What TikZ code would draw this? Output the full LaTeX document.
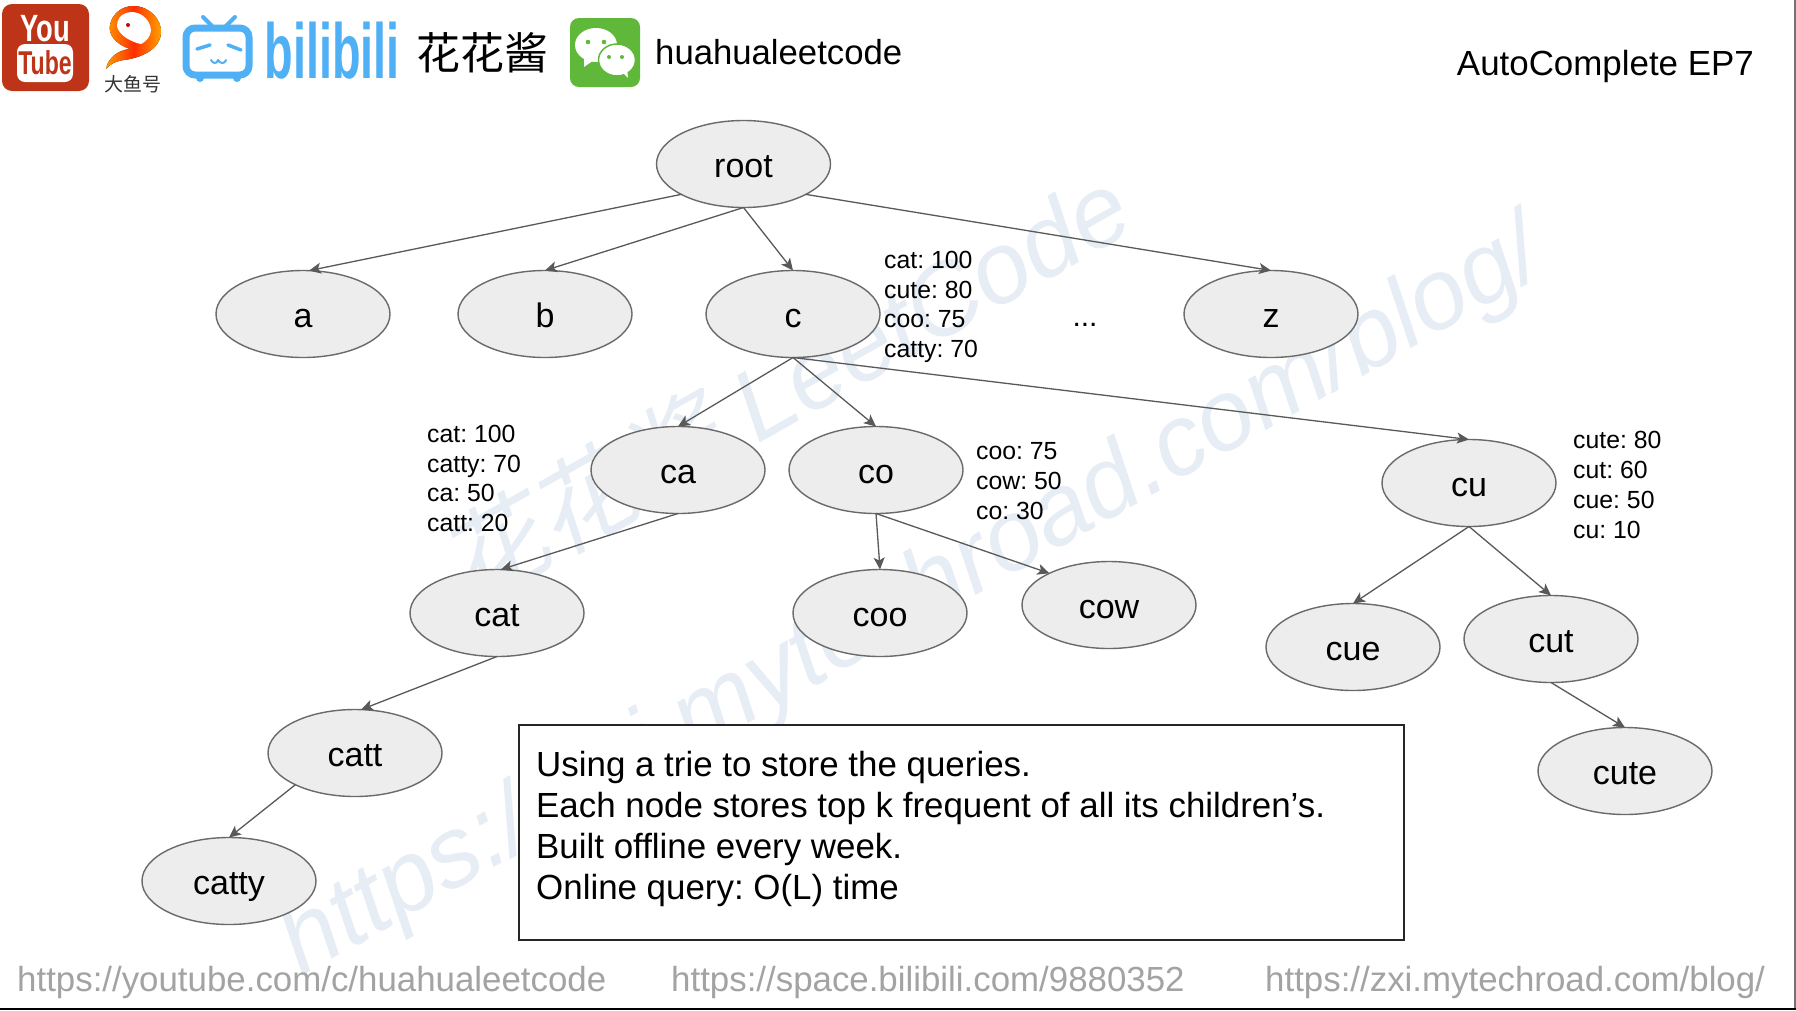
\documentclass[tikz,border=0pt]{standalone}
\usepackage{fontspec}
\usetikzlibrary{shapes.geometric,arrows.meta}
\setmainfont{Liberation Sans}
\frenchspacing
\newfontfamily\cjkfont{Noto Sans CJK SC}
\newfontfamily\cjkslant[FakeSlant=0.2]{Noto Sans CJK SC}
\definecolor{wm}{HTML}{E7EDF5}
\definecolor{edgec}{HTML}{595959}
\definecolor{foot}{HTML}{A3A3A3}
\definecolor{bili}{HTML}{4FB0F5}
\definecolor{wx}{HTML}{5FB83A}
\definecolor{yt}{HTML}{BD3418}
\tikzset{
 trie/.style={ellipse,draw=edgec!90,line width=1.4pt,fill=black!7,minimum width=174pt,minimum height=87pt,inner sep=0pt,outer sep=0pt,text height=27pt,text depth=0pt,font=\fontsize{34}{40}\selectfont},
 link/.style={draw=edgec,line width=1.3pt,-{Stealth[length=12pt,width=11pt,inset=3pt]}},
 toplabel/.style={anchor=west,align=left,inner sep=0pt,font=\fontsize{24.8}{29.8}\selectfont},
 footer/.style={anchor=base west,inner sep=0pt,text=foot,font=\fontsize{34.85}{40}\selectfont},
 wmark/.style={inner sep=0pt,text=wm,rotate=29.5},
 biliStroke/.style={draw=bili,line cap=round,line join=round}
}
\begin{document}
\begin{tikzpicture}[x=1pt,y=-1pt]
\useasboundingbox (0,0) rectangle (1796,1010);
\fill[white] (0,0) rectangle (1796,1010);
% watermark
\node[wmark] (wmone) at (785,385) {\fontsize{101}{110}\selectfont{\cjkslant 花花酱} \itshape LeetCode};
\node[wmark] (wmtwo) at (913,601) {\fontsize{100}{110}\selectfont\itshape https://zxi.mytechroad.com/blog/};
% page edges
\draw[black!55,line width=1.5pt] (1795,0) -- (1795,1010);
\draw[black,line width=2pt] (0,1009) -- (1796,1009);
% youtube
\fill[yt,rounded corners=10pt] (2,4) rectangle (89,91);
\node[inner sep=0pt,text=white] (ytyou) at (45,29) {\fontsize{38}{40}\selectfont\bfseries\scalebox{.72}[1]{You}};
\fill[white,rounded corners=8pt] (17,44) rectangle (73,82);
\node[inner sep=0pt,text=yt] (yttube) at (45,63) {\fontsize{33}{40}\selectfont\bfseries\scalebox{.7}[1]{Tube}};
% dayuhao
\fill[left color=orange!80!yellow,right color=orange!70!yellow,middle color=red!65!orange] (133,6) .. controls (150,6) and (162,20) .. (161,33) .. controls (160,50) and (140,58) .. (124,60) .. controls (116,61) and (110,64) .. (106,69) .. controls (108,58) and (118,50) .. (130,49) .. controls (115,44) and (108,34) .. (110,25) .. controls (112,14) and (122,6) .. (133,6) -- cycle;
\fill[white] (126,13) .. controls (138,9) and (150,18) .. (151,30) .. controls (151,36) and (146,42) .. (141,44) .. controls (130,42) and (118,34) .. (117,26) .. controls (117,20) and (120,15) .. (126,13) -- cycle;
\fill[red!80!black] (128,25) circle (2pt);
\node[inner sep=0pt,text=black!80] (dayu) at (133,84) {\fontsize{19}{20}\selectfont\cjkfont 大鱼号};
% bilibili tv
\draw[biliStroke,line width=4pt] (203,17) -- (213,27) (235,17) -- (225,27);
\fill[bili] (200,78) circle (4pt) (237,78) circle (4pt);
\draw[biliStroke,line width=7pt,fill=white,rounded corners=9pt] (186,28) rectangle (249,75);
\draw[biliStroke,line width=3.5pt] (197,49) -- (210,45) (228,45) -- (241,50);
\draw[biliStroke,line width=2pt] (211,60) .. controls (213,64) and (217,64) .. (218,60) .. controls (220,64) and (225,64) .. (226,60);
\node[inner sep=0pt,text=bili] (bilitext) at (332,51) {\fontsize{78}{80}\selectfont\bfseries\scalebox{.6}[1]{bilibili}};
\node[inner sep=0pt] (huahua) at (482,53) {\fontsize{44}{46}\selectfont\cjkfont 花花酱};
% wechat
\fill[wx,rounded corners=9pt] (570,18) rectangle (640,87);
\fill[white] (596,45) ellipse [x radius=21pt,y radius=17pt];
\fill[white] (584,58) -- (584,67) -- (594,60) -- cycle;
\fill[white,draw=wx,line width=1.5pt] (617,60) ellipse [x radius=18.5pt,y radius=16pt];
\fill[white] (622,72) -- (628,78) -- (627,68) -- cycle;
\fill[wx] (588,42) circle (2.3pt) (604,42) circle (2.3pt) (609,57) circle (2pt) (622,57) circle (2pt);
\node[anchor=base west,inner sep=0pt] (wxname) at (655,64) {\fontsize{34.7}{40}\selectfont huahualeetcode};
\node[anchor=base east,inner sep=0pt] (title) at (1754,75) {\fontsize{34.9}{40}\selectfont AutoComplete EP7};
% trie
\node[trie] (root) at (743.5,164) {root};
\node[trie] (a) at (303,314) {a};
\node[trie] (b) at (545,314) {b};
\node[trie] (c) at (793,314) {c};
\node[trie] (z) at (1271,314) {z};
\node[trie] (ca) at (678,470) {ca};
\node[trie] (co) at (876,470) {co};
\node[trie] (cu) at (1469,483) {cu};
\node[trie] (cat) at (497,613) {cat};
\node[trie] (coo) at (880,613) {coo};
\node[trie] (cow) at (1109,605) {cow};
\node[trie] (cue) at (1353,647) {cue};
\node[trie] (cut) at (1551,639) {cut};
\node[trie] (cute) at (1625,771) {cute};
\node[trie] (catt) at (355,753) {catt};
\node[trie] (catty) at (229,881) {catty};
\draw[link] (root.206) -- (a.82);
\draw[link] (root.south) -- (b.north);
\draw[link] (root.south) -- (c.north);
\draw[link] (root.334) -- (z.north);
\draw[link] (c.south) -- (ca.north);
\draw[link] (c.south) -- (co.north);
\draw[link] (c.south) -- (cu.north);
\draw[link] (ca.south) -- (cat.85);
\draw[link] (co.south) -- (coo.north);
\draw[link] (co.south) -- (cow.152);
\draw[link] (cat.south) -- (catt.82);
\draw[link] (catt.208) -- (catty.north);
\draw[link] (cu.south) -- (cue.north);
\draw[link] (cu.south) -- (cut.north);
\draw[link] (cut.south) -- (cute.north);
% lists
\node[toplabel] (lc) at (884,307) {cat: 100\\cute: 80\\coo: 75\\catty: 70};
\node[toplabel] (lca) at (427,478.5) {cat: 100\\catty: 70\\ca: 50\\catt: 20};
\node[toplabel] (lco) at (976,481) {coo: 75\\cow: 50\\co: 30};
\node[toplabel] (lcu) at (1573,485) {cute: 80\\cut: 60\\cue: 50\\cu: 10};
\node[inner sep=0pt] (dots) at (1085,325) {\fontsize{30}{34}\selectfont ...};
% box
\node[draw=black!85,line width=1.6pt,fill=white,minimum width=885pt,minimum height=215pt,inner sep=0pt] (box) at (961.5,832.5) {};
\node[anchor=west,align=left,inner sep=0pt,font=\fontsize{34.9}{41}\selectfont] (boxtext) at (536,829) {Using a trie to store the queries.\\Each node stores top k frequent of all its children’s.\\Built offline every week.\\Online query: O(L) time};
% footer
\node[footer] (f1) at (17,991) {https://youtube.com/c/huahualeetcode};
\node[footer] (f2) at (671,991) {https://space.bilibili.com/9880352};
\node[footer] (f3) at (1265,991) {https://zxi.mytechroad.com/blog/};
\end{tikzpicture}
\end{document}
